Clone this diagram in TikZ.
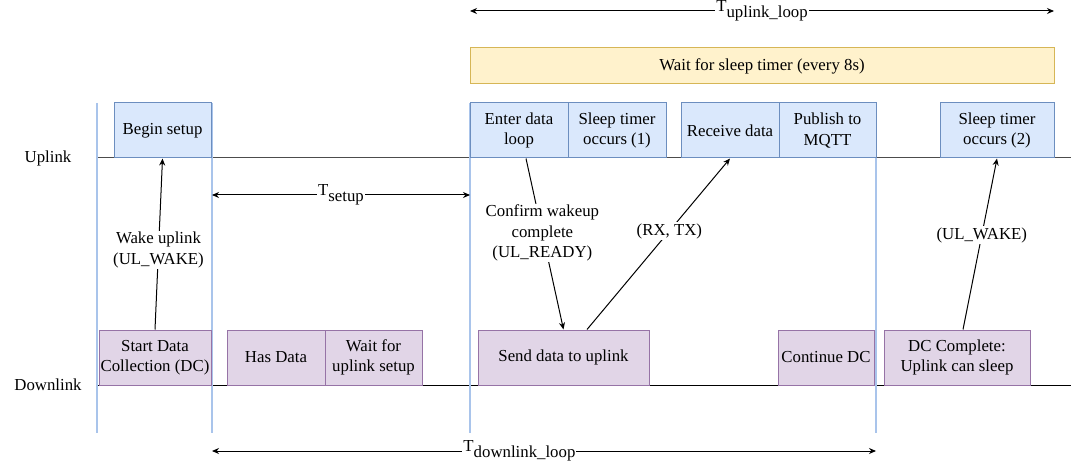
\documentclass[tikz,border=0pt]{standalone}
\usepackage{fontspec}
\setmainfont{Liberation Serif}
\usetikzlibrary{arrows.meta,calc}
\definecolor{ufill}{HTML}{DAE8FC}
\definecolor{udraw}{HTML}{6C8EBF}
\definecolor{dfill}{HTML}{E1D5E7}
\definecolor{ddraw}{HTML}{9673A6}
\definecolor{yfill}{HTML}{FFF2CC}
\definecolor{ydraw}{HTML}{D6B656}
\definecolor{vline}{HTML}{A9C4EB}
\newcommand{\sublbl}[1]{T\raisebox{-0.35em}{#1}}
\begin{document}
\begin{tikzpicture}[x=1pt,y=-1pt,
  every node/.style={font=\fontsize{16.8}{20.5}\selectfont, align=center, inner sep=0pt},
  box/.style={rectangle, line width=1pt, minimum height=55pt},
  ubox/.style={box, fill=ufill, draw=udraw},
  dbox/.style={box, fill=dfill, draw=ddraw},
  tl/.style={line width=1pt},
  vl/.style={draw=vline, line width=1.5pt},
  msg/.style={line width=1pt, -{Stealth[length=7pt,width=6pt]}},
  span/.style={line width=1pt, {Stealth[length=7pt,width=6pt]}-{Stealth[length=7pt,width=6pt]}},
  lbl/.style={fill=white, inner sep=1pt}]
\useasboundingbox (0,0) rectangle (1073,465);

% lane labels
\node (ul) at (48,158) {Uplink};
\node (dl) at (48,385) {Downlink};

% timelines
\coordinate (ulA) at (97,158);
\coordinate (ulB) at (1071,158);
\coordinate (dlA) at (97,385);
\coordinate (dlB) at (1071,385);
\draw[tl, draw=black!70] (ulA) -- (ulB);
\draw[tl] (dlA) -- (dlB);

% vertical markers
\coordinate (v1t) at (97,103);  \coordinate (v1b) at (97,433);
\coordinate (v2t) at (212,103); \coordinate (v2b) at (212,433);
\coordinate (v3t) at (470,103); \coordinate (v3b) at (470,433);
\coordinate (v4t) at (876,103); \coordinate (v4b) at (876,433);
\draw[vl] (v1t) -- (v1b);
\draw[vl] (v2t) -- (v2b);
\draw[vl] (v3t) -- (v3b);
\draw[vl] (v4t) -- (v4b);

% yellow box
\node[fill=yfill, draw=ydraw, line width=1pt, minimum width=584pt, minimum height=36pt] (wait) at (762,66) {Wait for sleep timer (every 8s)};

% uplink boxes
\node[ubox, minimum width=97pt] (bs) at (162.5,130.5) {Begin setup};
\node[ubox, minimum width=98pt] (edl) at (519,130.5) {Enter data\\loop};
\node[ubox, minimum width=98pt] (st1) at (617,130.5) {Sleep timer\\occurs (1)};
\node[ubox, minimum width=98pt] (rd) at (730,130.5) {Receive data};
\node[ubox, minimum width=97pt] (pm) at (827.5,130.5) {Publish to\\MQTT};
\node[ubox, minimum width=114pt] (st2) at (997,130.5) {Sleep timer\\occurs (2)};

% downlink boxes
\node[dbox, minimum width=112pt] (sdc) at (155,357.5) {Start Data\\Collection (DC)};
\node[dbox, minimum width=98pt] (hd) at (276,357.5) {Has Data};
\node[dbox, minimum width=97pt] (wfu) at (373.5,357.5) {Wait for\\uplink setup};
\node[dbox, minimum width=171pt] (sd) at (563.5,357.5) {Send data to uplink};
\node[dbox, minimum width=96pt] (cdc) at (826,357.5) {Continue DC};
\node[dbox, minimum width=146pt] (dcc) at (957,357.5) {DC Complete:\\Uplink can sleep};

% messages
\draw[msg] (sdc.north) -- node[lbl, pos=0.465] {Wake uplink\\(UL\_WAKE)} (bs.south);
\draw[msg] ($(edl.south)+(7,0)$) -- node[lbl, pos=0.436] {Confirm wakeup\\complete\\(UL\_READY)} (sd.north);
\draw[msg] ($(sd.north)+(23.5,0)$) -- node[lbl, pos=0.576] {(RX, TX)} (rd.south);
\draw[msg] ($(dcc.north)+(6,0)$) -- node[lbl, pos=0.552] {(UL\_WAKE)} (st2.south);

% spans
\coordinate (tsA) at (212,195); \coordinate (tsB) at (470,195);
\coordinate (tuA) at (470,11);  \coordinate (tuB) at (1054,11);
\coordinate (tdA) at (212,451); \coordinate (tdB) at (876,451);
\draw[span] (tsA) -- node[lbl] {\sublbl{setup}} (tsB);
\draw[span] (tuA) -- node[lbl] {\sublbl{uplink\_loop}} (tuB);
\draw[span] (tdA) -- node[lbl, pos=0.463] {\sublbl{downlink\_loop}} (tdB);
\end{tikzpicture}
\end{document}
